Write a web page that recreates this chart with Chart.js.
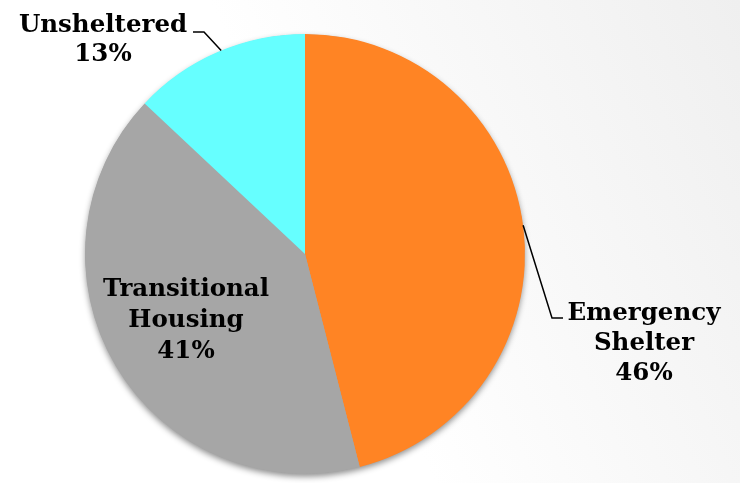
<!DOCTYPE html>
<html>
<head>
<meta charset="utf-8">
<script src="https://cdn.jsdelivr.net/npm/chart.js@4"></script>
<style>
  html, body { margin: 0; padding: 0; }
  body {
    width: 740px; height: 483px; overflow: hidden;
    background: linear-gradient(65deg, #ffffff 0%, #ffffff 45%, #efefef 100%);
  }
  #wrap { position: relative; width: 740px; height: 483px; }
</style>
</head>
<body>
<div id="wrap"><canvas id="c" width="740" height="483"></canvas></div>
<script>
const categories = ["Emergency Shelter", "Transitional Housing", "Unsheltered"];
const values = [46, 41, 13];
const sliceColors = ["#FF8424", "#A6A6A6", "#66FFFF"];
const labelLines = [["Emergency", "Shelter", "46%"], ["Transitional", "Housing", "41%"], ["Unsheltered", "13%"]];

const FONT = "bold 24.5px 'DejaVu Serif', Georgia, serif";

const shadowPlugin = {
  id: 'pieShadow',
  beforeDatasetsDraw(chart) {
    const arc = chart.getDatasetMeta(0).data[0];
    if (!arc) return;
    const ctx = chart.ctx;
    ctx.save();
    ctx.shadowColor = 'rgba(0,0,0,0.45)';
    ctx.shadowBlur = 6;
    ctx.shadowOffsetX = 0;
    ctx.shadowOffsetY = 3;
    ctx.fillStyle = '#A6A6A6';
    ctx.beginPath();
    ctx.arc(arc.x, arc.y, arc.outerRadius - 0.5, 0, Math.PI * 2);
    ctx.fill();
    ctx.restore();
  }
};

const labelPlugin = {
  id: 'pieLabels',
  afterDatasetsDraw(chart) {
    const meta = chart.getDatasetMeta(0);
    const ctx = chart.ctx;
    const a0 = meta.data[0];
    const cx = a0.x, cy = a0.y, R = a0.outerRadius;
    const anchors = [
      [644, 320, 30],
      [186, 296, 31],
      [103, 32, 29]
    ];
    ctx.save();
    ctx.fillStyle = '#000';
    ctx.font = FONT;
    ctx.textAlign = 'center';
    ctx.textBaseline = 'alphabetic';
    labelLines.forEach((lines, i) => {
      const [x, y, lh] = anchors[i];
      lines.forEach((t, j) => ctx.fillText(t, x, y + j * lh));
    });
    ctx.strokeStyle = '#000';
    ctx.lineWidth = 1.5;
    const edge = (deg) => {
      const r = (deg - 90) * Math.PI / 180;
      return [cx + R * Math.cos(r), cy + R * Math.sin(r)];
    };
    let p = edge(82.5);
    ctx.beginPath();
    ctx.moveTo(p[0], p[1]);
    ctx.lineTo(552, 318);
    ctx.lineTo(563, 318);
    ctx.stroke();
    p = edge(337.6);
    ctx.beginPath();
    ctx.moveTo(p[0], p[1]);
    ctx.lineTo(204, 32);
    ctx.lineTo(193, 32);
    ctx.stroke();
    ctx.restore();
  }
};

new Chart(document.getElementById('c'), {
  type: 'pie',
  data: {
    labels: categories,
    datasets: [{
      data: values,
      backgroundColor: sliceColors,
      borderWidth: 0
    }]
  },
  options: {
    responsive: false,
    animation: false,
    layout: { padding: { left: 85, right: 215, top: 34, bottom: 9 } },
    plugins: {
      legend: { display: false },
      tooltip: { enabled: false }
    }
  },
  plugins: [shadowPlugin, labelPlugin]
});
</script>
</body>
</html>
